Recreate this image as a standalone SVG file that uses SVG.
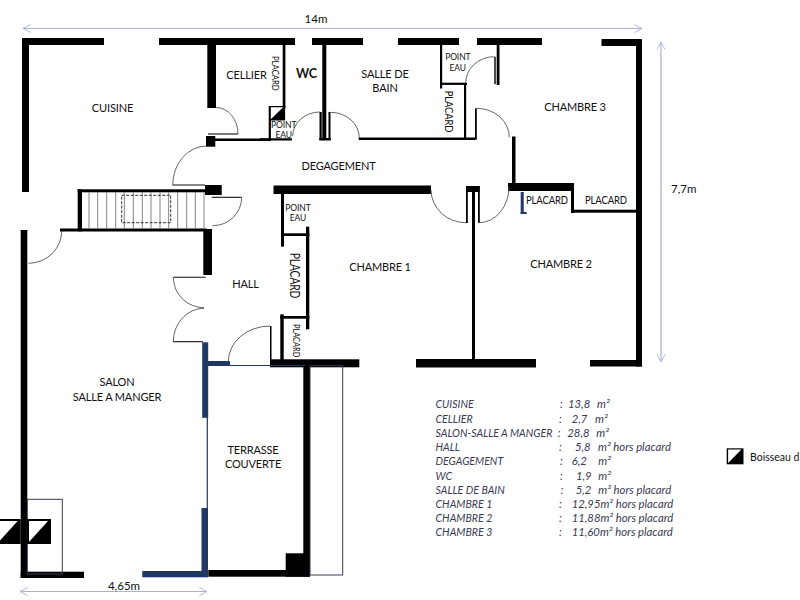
<svg xmlns="http://www.w3.org/2000/svg" width="800" height="600" viewBox="0 0 800 600">
<style>
text{font-family:"Lato","Carlito","Liberation Sans",sans-serif;fill:#111;font-size:11px;letter-spacing:-.15px}
.m{text-anchor:middle}
.s{font-size:8.5px;letter-spacing:-.1px}
.x{font-size:11.5px;letter-spacing:0}
.t text{font-style:italic;fill:#3a3a55;font-size:11.3px;letter-spacing:0}
.c{font-size:10.6px}
.b{fill:#1f3864}
.a{fill:none;stroke:#555;stroke-width:.9}
.l{fill:none;stroke:#111;stroke-width:1.1}
.tr{stroke:#777;stroke-width:.9}
.dim{fill:none;stroke:#aeb0d8;stroke-width:1.2}
</style>
<defs>
<marker id="o" viewBox="0 0 10 10" refX="9.5" refY="5" markerWidth="9" markerHeight="9" markerUnits="userSpaceOnUse" orient="auto-start-reverse"><path d="M1 0.5L9.5 5L1 9.5" fill="none" stroke="#aeb0d8" stroke-width="1"/></marker>
<g id="bo"><rect x="0" y="0" width="24" height="25" fill="#000"/><path d="M2 2H21L2 23Z" fill="#fff"/></g>
</defs>
<rect width="800" height="600" fill="#fff"/>
<g id="dimensions">
<path class="dim" d="M23 28.5H642" marker-start="url(#o)" marker-end="url(#o)"/>
<path class="dim" d="M661 42V362" marker-start="url(#o)" marker-end="url(#o)"/>
<path class="dim" d="M20 591.5H207" marker-start="url(#o)" marker-end="url(#o)"/>
</g>
<g id="walls">
<rect x="22" y="38" width="82" height="7"/><rect x="22" y="38" width="7" height="154"/>
<rect x="159" y="38" width="136" height="7"/><rect x="312" y="38" width="51" height="7"/>
<rect x="398" y="38" width="61" height="7"/><rect x="477" y="38" width="65" height="7"/>
<rect x="601.5" y="39" width="40.5" height="7"/><rect x="636" y="39" width="6" height="327.5"/>
<rect x="590" y="360" width="52" height="6.5"/><rect x="416" y="359" width="120" height="8.5"/>
<rect x="472" y="190" width="3" height="170"/><rect x="466" y="186" width="13.5" height="6"/>
<rect x="466" y="186" width="1.8" height="37"/><rect x="478" y="186" width="1.8" height="37"/>
<rect x="273.5" y="185.5" width="157.5" height="8.5"/>
<rect x="512" y="136.5" width="3.5" height="49"/><rect x="508" y="183" width="66" height="8"/>
<rect x="571" y="188" width="3" height="25"/><rect x="571" y="209.7" width="65" height="3"/>
<rect x="207.3" y="45" width="8.7" height="63"/><rect x="206" y="136" width="9.3" height="10.7"/>
<rect x="215" y="138.5" width="55" height="2.5"/><rect x="268.7" y="106" width="2.2" height="35"/>
<rect x="269" y="106" width="16.3" height="2.4"/><rect x="282.7" y="45" width="2.7" height="63"/>
<rect x="260" y="138.3" width="32" height="2.2"/>
<rect x="322.3" y="45" width="4" height="95"/><rect x="319.5" y="112" width="2.2" height="28"/>
<rect x="328.5" y="112" width="2" height="28"/><rect x="319.3" y="138" width="11.4" height="2.5"/>
<rect x="358.7" y="137.5" width="116.3" height="2.5"/><rect x="464" y="83" width="2.2" height="57"/>
<rect x="440" y="82.7" width="27" height="2.2"/><rect x="440" y="45" width="2.2" height="43.5"/>
<rect x="475" y="108.3" width="1.8" height="31.5"/><rect x="494.3" y="56.7" width="1.4" height="27.5"/>
<rect x="496.7" y="45" width="2.8" height="40"/>
<rect x="205" y="185" width="16.7" height="10"/>
<rect x="203.3" y="229" width="8.7" height="46"/>
<rect x="20.7" y="230" width="6.6" height="348"/><rect x="20.7" y="571.7" width="63.3" height="6.3"/>
<rect x="208.3" y="570" width="101.7" height="6.7"/><rect x="285.7" y="553.3" width="24.3" height="23.4"/>
<rect x="303.3" y="366" width="6.7" height="210"/>
<rect x="270" y="359.3" width="89.3" height="8"/><rect x="280.3" y="314.3" width="3.4" height="46"/>
<rect x="280.3" y="316" width="29" height="2.7"/><rect x="306" y="226.7" width="3.3" height="102.6"/>
<rect x="281.7" y="233.3" width="27.6" height="2.7"/><rect x="281" y="193" width="3" height="53.7"/>
<rect x="270" y="326" width="1.5" height="36"/>
</g>
<g id="blue-walls">
<rect class="b" x="520.7" y="192" width="3" height="22"/><rect class="b" x="520.7" y="212" width="6" height="2"/>
<rect class="b" x="142.3" y="571" width="65.7" height="6.3"/><rect class="b" x="201.5" y="508" width="6.5" height="69"/>
<rect class="b" x="202.2" y="342.3" width="6" height="75.5"/><rect class="b" x="208" y="361" width="22" height="5"/>
<rect class="b" x="206.7" y="417" width="1.2" height="92"/><rect class="b" x="230" y="365" width="75" height="1"/>
</g>
<g id="doors">
<path class="a" d="M216 107.5A22 26.500 0 0 1 238 134"/><path class="l" d="M208 134H238"/>
<path class="a" d="M206.700 146A34 39 0 0 0 172.700 185"/><path class="l" d="M172.700 185H205"/>
<path class="a" d="M292.700 136A27.300 24 0 0 1 320 112"/><path class="a" d="M330.700 112.300A28.600 25.700 0 0 1 359.300 138"/>
<path class="a" d="M476.700 108.300A32.600 29 0 0 1 509.300 137.300"/>
<path class="a" d="M465.700 83A28.600 26.300 0 0 1 494.300 56.700"/>
<path class="a" d="M431 190A35 33 0 0 0 466 222.700"/><path class="a" d="M509 187A30 35.700 0 0 1 478.700 222.700"/>
<path class="l" d="M211.700 197.300H241.700"/><path class="a" d="M241.700 197.300A29 28.400 0 0 1 212.700 225.700"/>
<path class="a" d="M61.700 231A33.400 32.300 0 0 1 28.300 263.300"/>
<path class="l" d="M173.300 277.300H205.700"/><path class="a" d="M173.300 277.300A30.700 30.400 0 0 0 204 307.700"/>
<path class="a" d="M204 308.300A30.700 33.400 0 0 0 173.300 341.700"/><path class="l" d="M173.300 341.700H203"/>
<path class="a" d="M228.300 361.700A41.700 35.700 0 0 1 270 326"/>
</g>
<g id="stairs">
<rect x="77.700" y="189.300" width="129" height="3"/><rect x="77.700" y="189.300" width="4.300" height="42"/>
<rect x="60" y="228.500" width="146.700" height="3"/>
<path class="tr" d="M89 192V229M97.700 192V229M106.700 192V229M115.700 192V229M124.300 192V229M133.300 192V229M142.300 192V229M151 192V229M160 192V229M168.700 192V229M177.700 192V229M186.700 192V229M195.300 192V229M204 192V229"/>
<rect x="121.700" y="195.300" width="49" height="27.400" fill="none" stroke="#333" stroke-width="1" stroke-dasharray="3 1.500"/>
</g>
<g id="terrace">
<rect x="310" y="365.700" width="32.700" height="209.300" fill="none" stroke="#3b3b55" stroke-width="1"/>
<rect x="27.300" y="499.300" width="35" height="74.700" fill="none" stroke="#3b3b55" stroke-width="1"/>
</g>
<g id="boisseaux">
<use href="#bo" x="-3.300" y="519"/><use href="#bo" x="27" y="519"/>
<use href="#bo" transform="translate(269.500 106) scale(.65 .58)"/>
<use href="#bo" transform="translate(726.700 448.300) scale(.7 .64)"/>
</g>
<g id="labels">
<text class="m" x="112.500" y="112">CUISINE</text>
<text class="m" x="246.500" y="79">CELLIER</text>
<text class="m" x="306.500" y="78" style="font-weight:700;font-size:12.500px">WC</text>
<text class="m" x="385" y="78">SALLE DE</text><text class="m" x="385" y="92">BAIN</text>
<text class="m" x="338.500" y="170">DEGAGEMENT</text>
<text class="m" x="575" y="111">CHAMBRE 3</text>
<text class="m" x="380" y="271">CHAMBRE 1</text>
<text class="m" x="561" y="268">CHAMBRE 2</text>
<text class="m" x="245.500" y="288">HALL</text>
<text class="m" x="117" y="386">SALON</text><text class="m" x="117" y="401">SALLE A MANGER</text>
<text class="m" x="253" y="453.500">TERRASSE</text><text class="m" x="253" y="468">COUVERTE</text>
<text x="526" y="204" textLength="42" lengthAdjust="spacingAndGlyphs">PLACARD</text>
<text x="585" y="204" textLength="42" lengthAdjust="spacingAndGlyphs">PLACARD</text>
<text class="m s" x="457.800" y="60">POINT</text><text class="m s" x="457.800" y="70.500">EAU</text>
<text class="m s" x="283.700" y="127.500">POINT</text><text class="m s" x="283.700" y="138">EAU</text>
<text class="m s" x="298" y="210.700">POINT</text><text class="m s" x="298" y="221">EAU</text>
<text class="s" textLength="34.700" lengthAdjust="spacingAndGlyphs" transform="translate(272 56) rotate(90)">PLACARD</text>
<text textLength="41.600" lengthAdjust="spacingAndGlyphs" transform="translate(445 90.700) rotate(90)">PLACARD</text>
<text style="font-size:12.500px" textLength="45.600" lengthAdjust="spacingAndGlyphs" transform="translate(290 252.700) rotate(90)">PLACARD</text>
<text class="s" textLength="33.300" lengthAdjust="spacingAndGlyphs" transform="translate(292.700 324) rotate(90)">PLACARD</text>
<text class="m x" x="316" y="23">14m</text>
<text class="x" x="671" y="193">7,7m</text>
<text class="m x" x="124" y="590">4,65m</text>
<text x="750" y="461" style="font-size:10.500px;letter-spacing:0">Boisseau d</text>
</g>
<g id="surfaces" class="t">
<text y="408"><tspan class="c" x="435.500">CUISINE</tspan><tspan x="560">:</tspan><tspan x="568">13,8</tspan><tspan x="597">m²</tspan></text>
<text y="422.500"><tspan class="c" x="435.500">CELLIER</tspan><tspan x="559">:</tspan><tspan x="571.700">2,7</tspan><tspan x="595">m²</tspan></text>
<text y="436.500"><tspan class="c" x="435.500">SALON-SALLE A MANGER</tspan><tspan x="557.700">:</tspan><tspan x="567.300">28,8</tspan><tspan x="596.300">m²</tspan></text>
<text y="451"><tspan class="c" x="435.500">HALL</tspan><tspan x="559">:</tspan><tspan x="575">5,8</tspan><tspan x="598">m² hors placard</tspan></text>
<text y="465"><tspan class="c" x="435.500">DEGAGEMENT</tspan><tspan x="560">:</tspan><tspan x="571.700">6,2</tspan><tspan x="598.300">m²</tspan></text>
<text y="479.500"><tspan class="c" x="435.500">WC</tspan><tspan x="560">:</tspan><tspan x="576">1,9</tspan><tspan x="598.300">m²</tspan></text>
<text y="493.500"><tspan class="c" x="435.500">SALLE DE BAIN</tspan><tspan x="560.700">:</tspan><tspan x="575.700">5,2</tspan><tspan x="598.300">m² hors placard</tspan></text>
<text y="508"><tspan class="c" x="435.500">CHAMBRE 1</tspan><tspan x="559">:</tspan><tspan x="571.700">12,95m² hors placard</tspan></text>
<text y="522"><tspan class="c" x="435.500">CHAMBRE 2</tspan><tspan x="559">:</tspan><tspan x="571.700">11,88m² hors placard</tspan></text>
<text y="536"><tspan class="c" x="435.500">CHAMBRE 3</tspan><tspan x="559">:</tspan><tspan x="571.700">11,60m² hors placard</tspan></text>
</g>
</svg>
